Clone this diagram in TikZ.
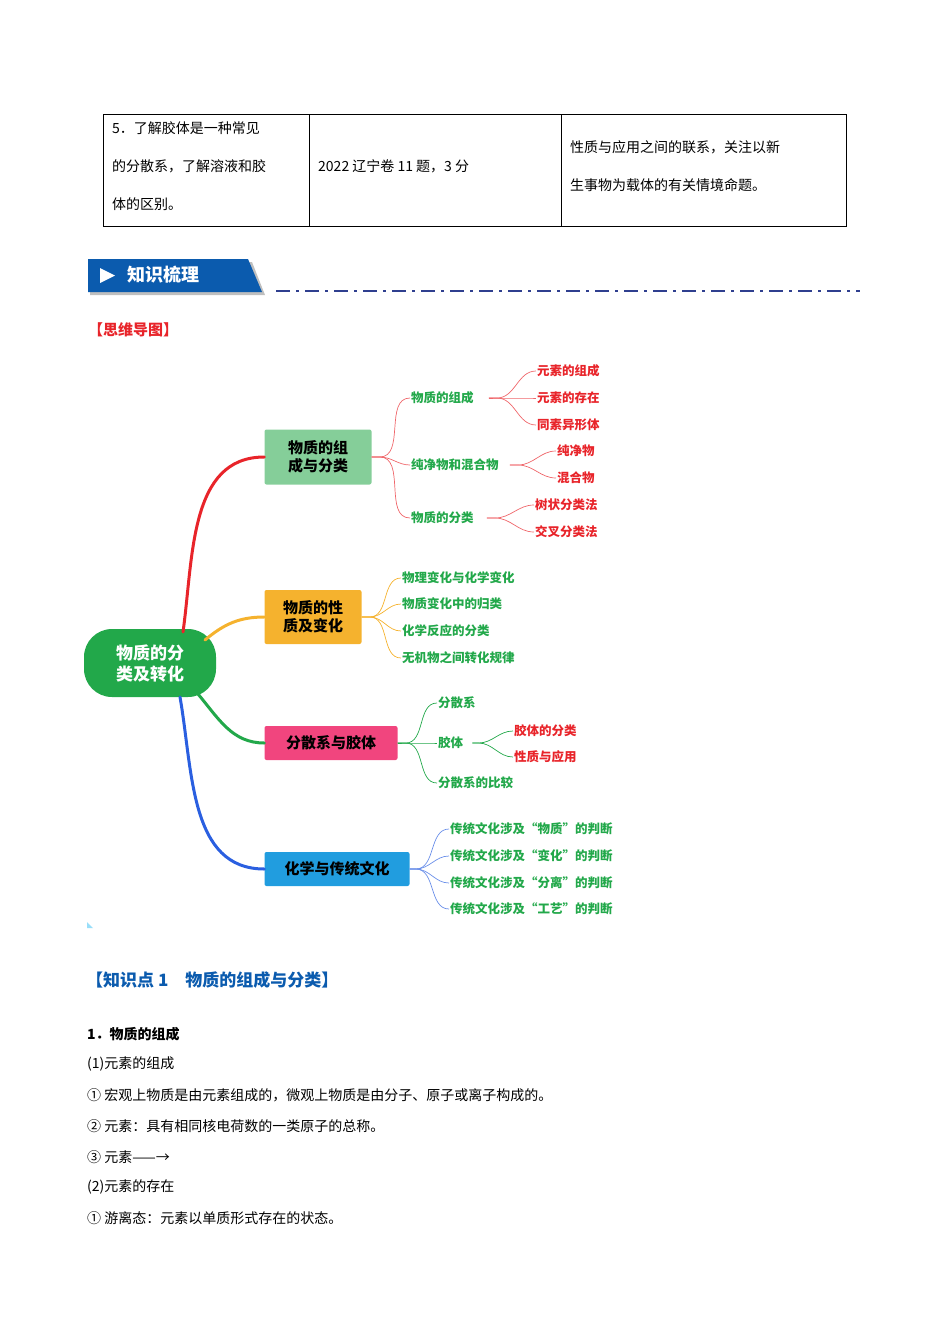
\documentclass[tikz,border=0pt]{standalone}
\usepackage{fontspec}
\setmainfont{Noto Sans CJK SC}
\usepackage{tikz}
\usetikzlibrary{positioning}
\definecolor{mmgreen}{HTML}{22A84A}
\definecolor{mmred}{HTML}{E8242A}
\definecolor{mmorange}{HTML}{F5B22E}
\definecolor{mmblue}{HTML}{2A5FE0}
\definecolor{bannerblue}{HTML}{0B5BAE}
\definecolor{dashblue}{HTML}{2F3F8F}
\tikzset{
  body/.style={anchor=west, font=\fontsize{14}{16}\selectfont, inner sep=0pt},
  box/.style={rounded corners=2pt, font=\fontsize{15}{18}\selectfont\bfseries, align=center, inner sep=4pt},
  leaf/.style={anchor=west, font=\fontsize{12.5}{14}\selectfont\bfseries, text=mmgreen, inner sep=1pt},
  twig/.style={leaf, text=mmred},
  stem/.style={line width=3pt, line cap=round},
  thin/.style={line width=0.7pt}
}
\begin{document}
\begin{tikzpicture}[x=1pt, y=-1pt]
    \useasboundingbox (0,0) rectangle (950,1344);

    % table at the top
    \draw[line width=0.8pt] (103,114) rectangle (846,226);
    \draw[line width=0.8pt] (309,114) -- (309,226);
    \draw[line width=0.8pt] (561,114) -- (561,226);
    \node[body] (c1a) at (112,128) {5．了解胶体是一种常见};
    \node[body] (c1b) at (112,166) {的分散系，了解溶液和胶};
    \node[body] (c1c) at (112,204) {体的区别。};
    \node[body] (c2)  at (318,166) {2022 辽宁卷 11 题，3 分};
    \node[body] (c3a) at (570,147) {性质与应用之间的联系，关注以新};
    \node[body] (c3b) at (570,185) {生事物为载体的有关情境命题。};

    % banner
    \fill[black!25] (90,262) -- (252,262) -- (265,295) -- (90,295) -- cycle;
    \fill[bannerblue] (88,259) -- (248,259) -- (262,292) -- (88,292) -- cycle;
    \fill[white] (100,268) -- (115,275.5) -- (100,283) -- cycle;
    \node[anchor=west, text=white, font=\fontsize{18}{20}\selectfont\bfseries] (banner) at (124,275) {知识梳理};
    \draw[dashblue, line width=2.2pt, dash pattern=on 14pt off 6pt on 3pt off 6pt] (276,291) -- (860,291);
    \node[anchor=west, text=mmred, font=\fontsize{15}{17}\selectfont\bfseries, inner sep=0pt] (mapttl) at (88,330) {【思维导图】};

    % mind map: root and branches
    \node[box, fill=mmgreen, text=white, rounded corners=28pt, minimum width=132pt, minimum height=68pt, font=\fontsize{17}{21}\selectfont\bfseries] (root) at (150,663) {物质的分\\类及转化};
    \node[box, fill=green!45!black!5!mmgreen!55, minimum width=107pt, minimum height=55pt] (comp) at (318,457) {物质的组\\成与分类};
    \node[box, fill=mmorange, minimum width=97pt, minimum height=54pt] (prop) at (313,617) {物质的性\\质及变化};
    \node[box, fill=magenta!60!red!75, minimum width=133pt, minimum height=34pt] (disp) at (331,743) {分散系与胶体};
    \node[box, fill=cyan!80!blue!90, minimum width=145pt, minimum height=34pt] (trad) at (337,869) {化学与传统文化};

    \draw[stem, mmred]    (183,632) to[out=82, in=180] (comp.west);
    \draw[stem, mmorange] (205,640) to[out=40, in=180] (prop.west);
    \draw[stem, mmgreen]  (198,694) to[out=-50, in=180] (disp.west);
    \draw[stem, mmblue]   (180,697) to[out=-80, in=180] (trad.west);

    % first branch
    \node[leaf] (zc) at (410,398) {物质的组成};
    \node[leaf] (cj) at (410,465) {纯净物和混合物};
    \node[leaf] (fl) at (410,518) {物质的分类};
    \foreach \n in {zc,cj,fl}
        \draw[thin, mmred!70] (comp.east) -- ++(8,0) to[out=0, in=180] (\n.west);
    \node[twig] (ys1) at (536,371) {元素的组成};
    \node[twig] (ys2) at (536,398) {元素的存在};
    \node[twig] (ys3) at (536,425) {同素异形体};
    \foreach \n in {ys1,ys2,ys3}
        \draw[thin, mmred!70] (zc.east) ++(14,0) -- ++(8,0) to[out=0, in=180] (\n.west);
    \node[twig] (cjw) at (556,451) {纯净物};
    \node[twig] (hhw) at (556,478) {混合物};
    \foreach \n in {cjw,hhw}
        \draw[thin, mmred!70] (cj.east) ++(10,0) -- ++(8,0) to[out=0, in=180] (\n.west);
    \node[twig] (sz) at (534,505) {树状分类法};
    \node[twig] (jc) at (534,532) {交叉分类法};
    \foreach \n in {sz,jc}
        \draw[thin, mmred!70] (fl.east) ++(12,0) -- ++(8,0) to[out=0, in=180] (\n.west);

    % second branch
    \node[leaf] (bh1) at (401,578) {物理变化与化学变化};
    \node[leaf] (bh2) at (401,604) {物质变化中的归类};
    \node[leaf] (bh3) at (401,631) {化学反应的分类};
    \node[leaf] (bh4) at (401,658) {无机物之间转化规律};
    \foreach \n in {bh1,bh2,bh3,bh4}
        \draw[thin, mmorange] (prop.east) -- ++(8,0) to[out=0, in=180] (\n.west);

    % third branch
    \node[leaf] (fs) at (437,703) {分散系};
    \node[leaf] (jt) at (437,743) {胶体};
    \node[leaf] (bj) at (437,783) {分散系的比较};
    \foreach \n in {fs,jt,bj}
        \draw[thin, mmgreen] (disp.east) -- ++(8,0) to[out=0, in=180] (\n.west);
    \node[twig] (jt1) at (513,731) {胶体的分类};
    \node[twig] (jt2) at (513,757) {性质与应用};
    \foreach \n in {jt1,jt2}
        \draw[thin, mmgreen] (jt.east) ++(8,0) -- ++(6,0) to[out=0, in=180] (\n.west);

    % fourth branch
    \foreach \w/\y [count=\i] in {物质/829, 变化/856, 分离/883, 工艺/909}
        \node[leaf] (ct\i) at (449,\y) {传统文化涉及“\w”的判断};
    \foreach \i in {1,...,4}
        \draw[thin, mmblue!70] (trad.east) -- ++(6,0) to[out=0, in=180] (ct\i.west);
    \fill[cyan!40] (87,922) -- (93,928) -- (87,928) -- cycle;

    % text below the map
    \node[anchor=west, inner sep=0pt, text=bannerblue, font=\fontsize{17}{20}\selectfont\bfseries] (kp) at (86,980) {【知识点 1\quad 物质的组成与分类】};
    \node[body, font=\fontsize{14}{16}\selectfont\bfseries] (t1) at (87,1034) {1．物质的组成};
    \node[body] (t2) at (87,1064) {(1)元素的组成};
    \node[body] (t3) at (87,1095) {① 宏观上物质是由元素组成的，微观上物质是由分子、原子或离子构成的。};
    \node[body] (t4) at (87,1126) {② 元素：具有相同核电荷数的一类原子的总称。};
    \node[body] (t5) at (87,1157) {③ 元素——→};
    \node[body] (t6) at (87,1187) {(2)元素的存在};
    \node[body] (t7) at (87,1218) {① 游离态：元素以单质形式存在的状态。};
\end{tikzpicture}
\end{document}
